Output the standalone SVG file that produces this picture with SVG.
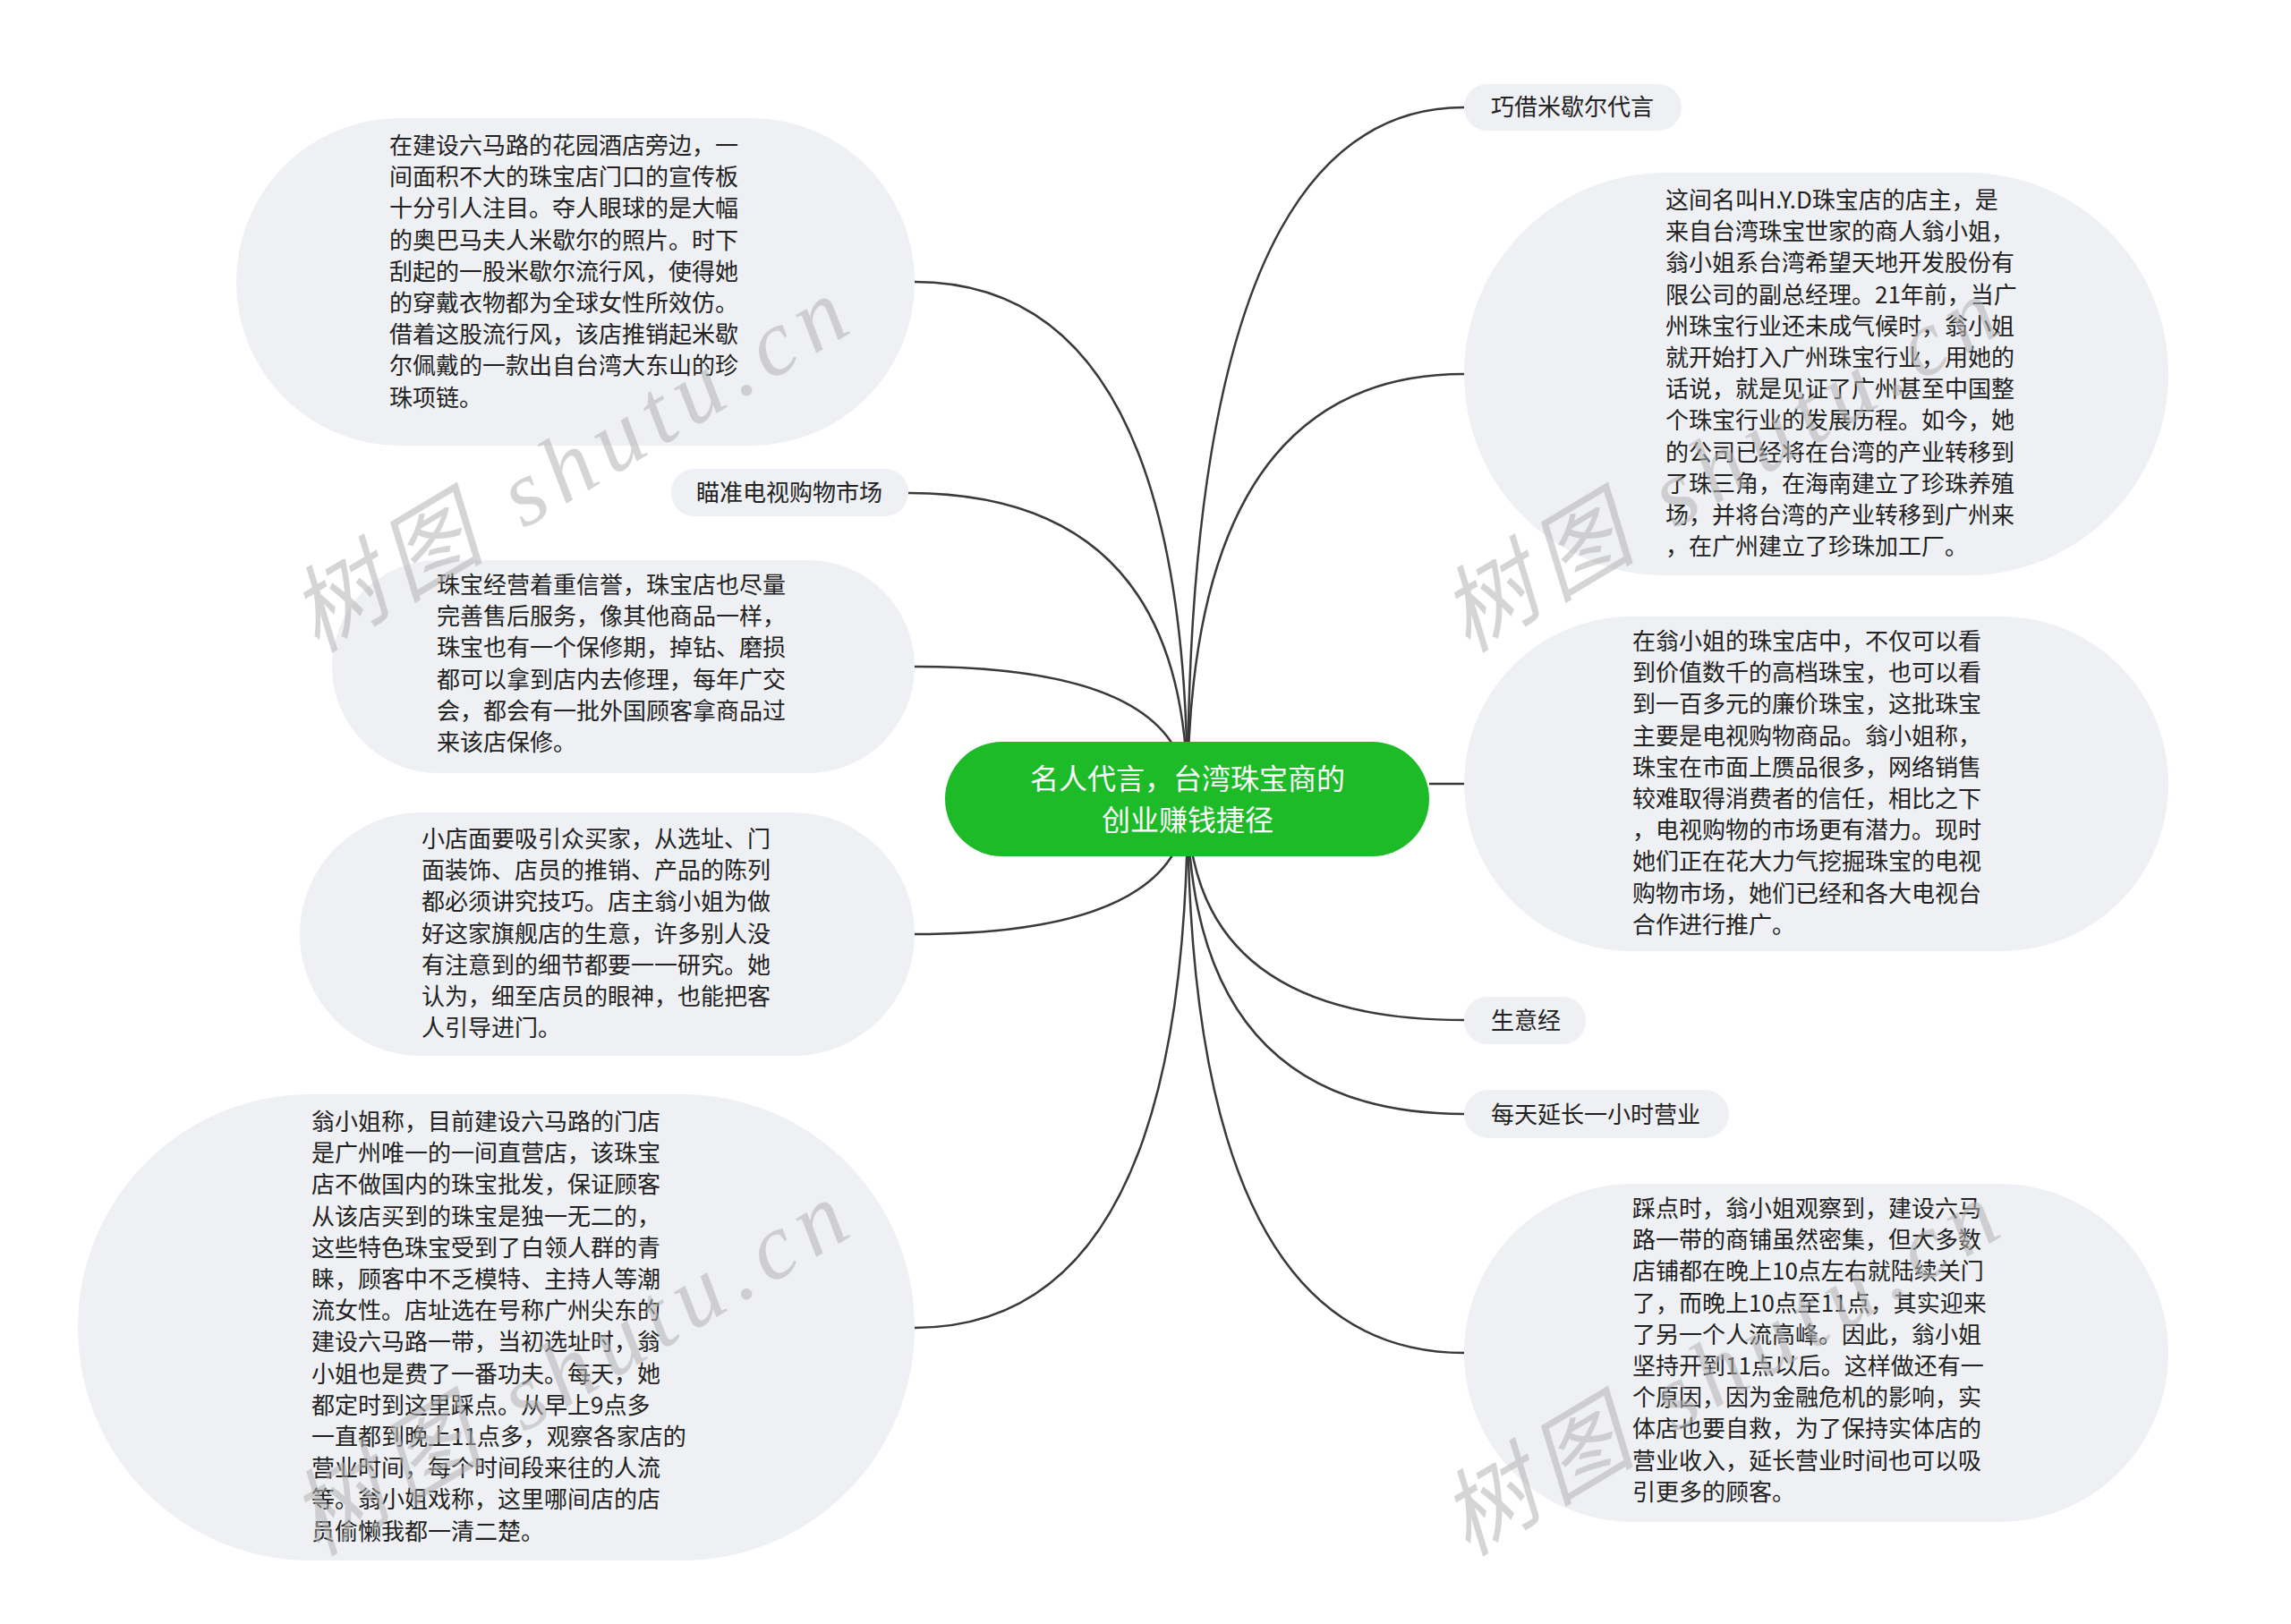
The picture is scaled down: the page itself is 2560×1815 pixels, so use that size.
<svg xmlns="http://www.w3.org/2000/svg" width="2560" height="1815" viewBox="0 0 2560 1815">
<style>
.n{fill:#eef0f3}
.t{font-family:"Noto Sans CJK SC","Noto Sans",sans-serif;font-size:26px;fill:#222}
.c{fill:none;stroke:#3a3a3a;stroke-width:2.5}
.w{font-family:"Liberation Serif","Noto Sans CJK SC",serif;font-style:italic;font-size:105px;fill:#b4b4b4;opacity:0.55}
</style>
<rect width="2560" height="1815" fill="#fff"/>
<g id="connectors">
<path class="c" d="M1327 893 Q1327 120 1636 120"/>
<path class="c" d="M1327 893 Q1327 418 1636 418"/>
<path class="c" d="M1597 876 L1636 876"/>
<path class="c" d="M1327 893 Q1327 1140 1636 1140"/>
<path class="c" d="M1327 893 Q1327 1245 1636 1245"/>
<path class="c" d="M1327 893 Q1327 1512 1636 1512"/>
<path class="c" d="M1327 893 Q1327 315 1022 315"/>
<path class="c" d="M1327 893 Q1327 551 1015 551"/>
<path class="c" d="M1327 893 Q1327 745 1022 745"/>
<path class="c" d="M1327 893 Q1327 1044 1022 1044"/>
<path class="c" d="M1327 893 Q1327 1484 1022 1484"/>
</g>
<g id="center">
<rect x="1056" y="829" width="541" height="128" rx="64" fill="#1dbb28"/>
<text x="1327" y="882" text-anchor="middle" font-family="Noto Sans CJK SC,sans-serif" font-size="32" fill="#fff">名人代言，台湾珠宝商的</text>
<text x="1327" y="928" text-anchor="middle" font-family="Noto Sans CJK SC,sans-serif" font-size="32" fill="#fff">创业赚钱捷径</text>
</g>
<g id="r1"><rect class="n" x="1636" y="94" width="243" height="52" rx="26"/><text class="t" x="1666" y="129">巧借米歇尔代言</text></g>
<g id="r2"><rect class="n" x="1636" y="193" width="787" height="450" rx="225"/>
<text class="t"><tspan x="1861" y="233">这间名叫H.Y.D珠宝店的店主，是</tspan><tspan x="1861" dy="35.2">来自台湾珠宝世家的商人翁小姐，</tspan><tspan x="1861" dy="35.2">翁小姐系台湾希望天地开发股份有</tspan><tspan x="1861" dy="35.2">限公司的副总经理。21年前，当广</tspan><tspan x="1861" dy="35.2">州珠宝行业还未成气候时，翁小姐</tspan><tspan x="1861" dy="35.2">就开始打入广州珠宝行业，用她的</tspan><tspan x="1861" dy="35.2">话说，就是见证了广州甚至中国整</tspan><tspan x="1861" dy="35.2">个珠宝行业的发展历程。如今，她</tspan><tspan x="1861" dy="35.2">的公司已经将在台湾的产业转移到</tspan><tspan x="1861" dy="35.2">了珠三角，在海南建立了珍珠养殖</tspan><tspan x="1861" dy="35.2">场，并将台湾的产业转移到广州来</tspan><tspan x="1861" dy="35.2">，在广州建立了珍珠加工厂。</tspan></text></g>
<g id="r3"><rect class="n" x="1636" y="689" width="787" height="374" rx="187"/>
<text class="t"><tspan x="1824" y="726">在翁小姐的珠宝店中，不仅可以看</tspan><tspan x="1824" dy="35.2">到价值数千的高档珠宝，也可以看</tspan><tspan x="1824" dy="35.2">到一百多元的廉价珠宝，这批珠宝</tspan><tspan x="1824" dy="35.2">主要是电视购物商品。翁小姐称，</tspan><tspan x="1824" dy="35.2">珠宝在市面上赝品很多，网络销售</tspan><tspan x="1824" dy="35.2">较难取得消费者的信任，相比之下</tspan><tspan x="1824" dy="35.2">，电视购物的市场更有潜力。现时</tspan><tspan x="1824" dy="35.2">她们正在花大力气挖掘珠宝的电视</tspan><tspan x="1824" dy="35.2">购物市场，她们已经和各大电视台</tspan><tspan x="1824" dy="35.2">合作进行推广。</tspan></text></g>
<g id="r4"><rect class="n" x="1636" y="1114" width="136" height="53" rx="26"/><text class="t" x="1666" y="1150">生意经</text></g>
<g id="r5"><rect class="n" x="1636" y="1218" width="296" height="54" rx="27"/><text class="t" x="1666" y="1255">每天延长一小时营业</text></g>
<g id="r6"><rect class="n" x="1636" y="1323" width="787" height="378" rx="189"/>
<text class="t"><tspan x="1824" y="1360">踩点时，翁小姐观察到，建设六马</tspan><tspan x="1824" dy="35.2">路一带的商铺虽然密集，但大多数</tspan><tspan x="1824" dy="35.2">店铺都在晚上10点左右就陆续关门</tspan><tspan x="1824" dy="35.2">了，而晚上10点至11点，其实迎来</tspan><tspan x="1824" dy="35.2">了另一个人流高峰。因此，翁小姐</tspan><tspan x="1824" dy="35.2">坚持开到11点以后。这样做还有一</tspan><tspan x="1824" dy="35.2">个原因，因为金融危机的影响，实</tspan><tspan x="1824" dy="35.2">体店也要自救，为了保持实体店的</tspan><tspan x="1824" dy="35.2">营业收入，延长营业时间也可以吸</tspan><tspan x="1824" dy="35.2">引更多的顾客。</tspan></text></g>
<g id="l1"><rect class="n" x="264" y="132" width="758" height="366" rx="183"/>
<text class="t"><tspan x="435" y="172">在建设六马路的花园酒店旁边，一</tspan><tspan x="435" dy="35.2">间面积不大的珠宝店门口的宣传板</tspan><tspan x="435" dy="35.2">十分引人注目。夺人眼球的是大幅</tspan><tspan x="435" dy="35.2">的奥巴马夫人米歇尔的照片。时下</tspan><tspan x="435" dy="35.2">刮起的一股米歇尔流行风，使得她</tspan><tspan x="435" dy="35.2">的穿戴衣物都为全球女性所效仿。</tspan><tspan x="435" dy="35.2">借着这股流行风，该店推销起米歇</tspan><tspan x="435" dy="35.2">尔佩戴的一款出自台湾大东山的珍</tspan><tspan x="435" dy="35.2">珠项链。</tspan></text></g>
<g id="l2"><rect class="n" x="750" y="524" width="265" height="53" rx="26"/><text class="t" x="778" y="560">瞄准电视购物市场</text></g>
<g id="l3"><rect class="n" x="371" y="626" width="651" height="238" rx="119"/>
<text class="t"><tspan x="488" y="663">珠宝经营着重信誉，珠宝店也尽量</tspan><tspan x="488" dy="35.2">完善售后服务，像其他商品一样，</tspan><tspan x="488" dy="35.2">珠宝也有一个保修期，掉钻、磨损</tspan><tspan x="488" dy="35.2">都可以拿到店内去修理，每年广交</tspan><tspan x="488" dy="35.2">会，都会有一批外国顾客拿商品过</tspan><tspan x="488" dy="35.2">来该店保修。</tspan></text></g>
<g id="l4"><rect class="n" x="335" y="908" width="687" height="272" rx="136"/>
<text class="t"><tspan x="471" y="947">小店面要吸引众买家，从选址、门</tspan><tspan x="471" dy="35.2">面装饰、店员的推销、产品的陈列</tspan><tspan x="471" dy="35.2">都必须讲究技巧。店主翁小姐为做</tspan><tspan x="471" dy="35.2">好这家旗舰店的生意，许多别人没</tspan><tspan x="471" dy="35.2">有注意到的细节都要一一研究。她</tspan><tspan x="471" dy="35.2">认为，细至店员的眼神，也能把客</tspan><tspan x="471" dy="35.2">人引导进门。</tspan></text></g>
<g id="l5"><rect class="n" x="87" y="1223" width="935" height="521" rx="260"/>
<text class="t"><tspan x="348" y="1263">翁小姐称，目前建设六马路的门店</tspan><tspan x="348" dy="35.2">是广州唯一的一间直营店，该珠宝</tspan><tspan x="348" dy="35.2">店不做国内的珠宝批发，保证顾客</tspan><tspan x="348" dy="35.2">从该店买到的珠宝是独一无二的，</tspan><tspan x="348" dy="35.2">这些特色珠宝受到了白领人群的青</tspan><tspan x="348" dy="35.2">睐，顾客中不乏模特、主持人等潮</tspan><tspan x="348" dy="35.2">流女性。店址选在号称广州尖东的</tspan><tspan x="348" dy="35.2">建设六马路一带，当初选址时，翁</tspan><tspan x="348" dy="35.2">小姐也是费了一番功夫。每天，她</tspan><tspan x="348" dy="35.2">都定时到这里踩点。从早上9点多</tspan><tspan x="348" dy="35.2">一直都到晚上11点多，观察各家店的</tspan><tspan x="348" dy="35.2">营业时间，每个时间段来往的人流</tspan><tspan x="348" dy="35.2">等。翁小姐戏称，这里哪间店的店</tspan><tspan x="348" dy="35.2">员偷懒我都一清二楚。</tspan></text></g>
<g id="watermarks">
<text class="w" transform="translate(654,550) rotate(-31)" text-anchor="middle" textLength="700">树图 shutu.cn</text>
<text class="w" transform="translate(1940,550) rotate(-31)" text-anchor="middle" textLength="700">树图 shutu.cn</text>
<text class="w" transform="translate(654,1560) rotate(-31)" text-anchor="middle" textLength="700">树图 shutu.cn</text>
<text class="w" transform="translate(1940,1560) rotate(-31)" text-anchor="middle" textLength="700">树图 shutu.cn</text>
</g>
</svg>
